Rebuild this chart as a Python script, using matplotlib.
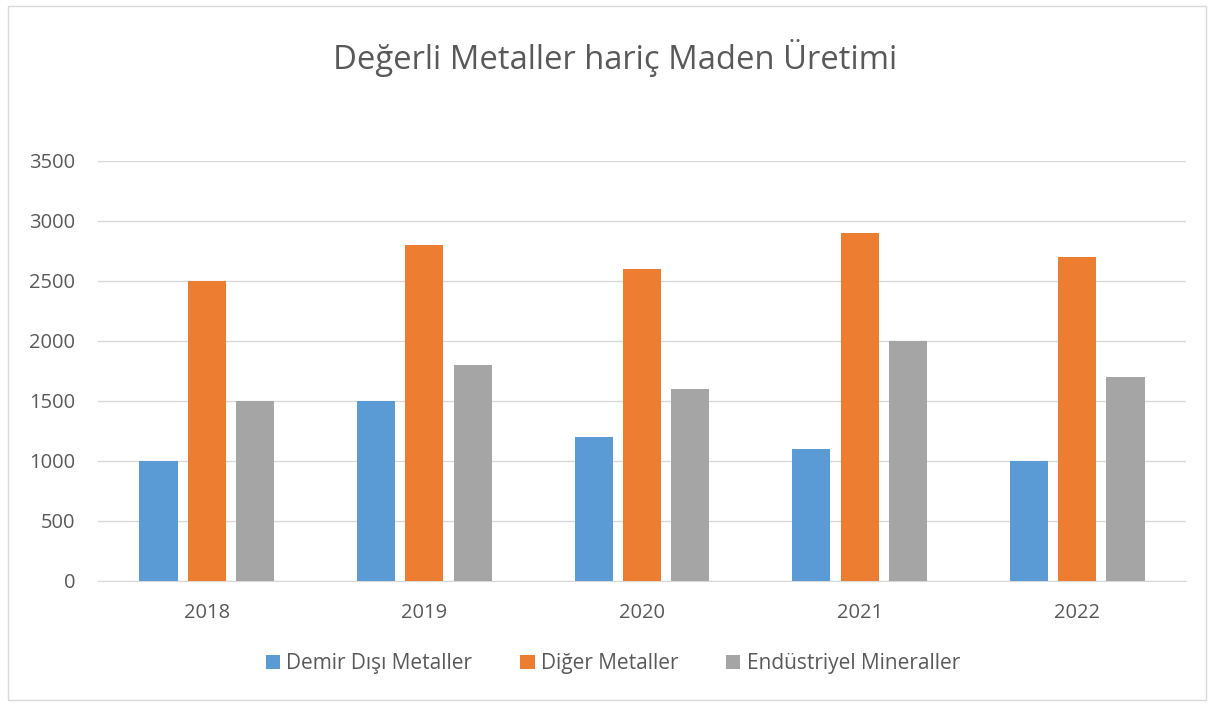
import matplotlib
matplotlib.use("Agg")
import matplotlib.pyplot as plt
import numpy as np
from matplotlib.patches import Rectangle

years = ["2018", "2019", "2020", "2021", "2022"]
series_names = ["Demir Dışı Metaller", "Diğer Metaller", "Endüstriyel Mineraller"]
demir_disi = [1000, 1500, 1200, 1100, 1000]
diger = [2500, 2800, 2600, 2900, 2700]
endustriyel = [1500, 1800, 1600, 2000, 1700]
colors = ["#5B9BD5", "#ED7D31", "#A5A5A5"]
title = "Değerli Metaller hariç Maden Üretimi"

plt.rcParams['font.family'] = ['Open Sans', 'DejaVu Sans']

W, H = 1215, 707
fig = plt.figure(figsize=(W/100, H/100), dpi=100)
fig.patch.set_facecolor("white")
# chart border
fig.add_artist(Rectangle((8/W, 1 - 700/H), (1206-8)/W, (700-6)/H, transform=fig.transFigure,
                         fill=False, edgecolor="#D9D9D9", linewidth=1))

ax = fig.add_axes([98/W, 1 - 581/H, (1186-98)/W, (581-161)/H])
x = np.arange(len(years))
bw = 0.175
off = 0.222
for i, (vals, c, name) in enumerate(zip([demir_disi, diger, endustriyel], colors, series_names)):
    ax.bar(x + (i-1)*off, vals, width=bw, color=c, label=name, zorder=3)

ax.set_xlim(-0.5, len(years)-0.5)
ax.set_ylim(0, 3500)
ax.set_yticks(np.arange(0, 3501, 500))
ax.yaxis.grid(True, color="#D9D9D9", linewidth=1, zorder=0)
ax.set_xticks(x)
ax.set_xticklabels(years)
for s in ["left", "right", "top"]:
    ax.spines[s].set_visible(False)
ax.spines["bottom"].set_color("#D9D9D9")
ax.tick_params(axis="both", length=0, labelsize=14.5, labelcolor="#595959")
ax.tick_params(axis="x", pad=16)
ax.tick_params(axis="y", pad=16.5)

fig.text(615/W, 1 - 58/H, title, ha="center", va="center", fontsize=23.6, color="#595959")

handles, labels = ax.get_legend_handles_labels()
fig.legend(handles, labels, loc="center", bbox_to_anchor=(613/W, 1 - 664/H), ncol=3, frameon=False,
           fontsize=15, labelcolor="#595959", handlelength=0.68, handleheight=0.68,
           handletextpad=0.3, columnspacing=2.3)

fig.savefig("out.png", dpi=100)
